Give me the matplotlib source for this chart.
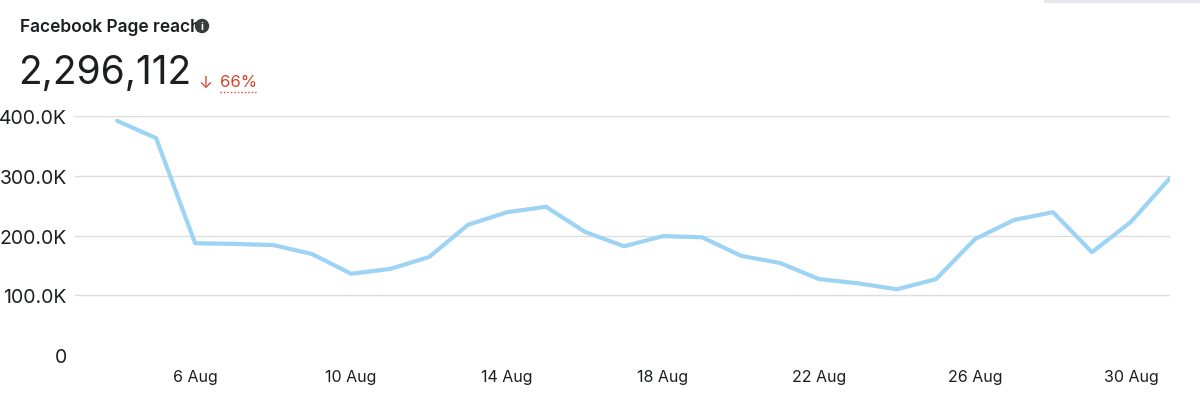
import matplotlib
matplotlib.use("Agg")
import matplotlib.pyplot as plt
import numpy as np
import datetime as dt
import matplotlib.dates as mdates
from matplotlib.patches import Ellipse

days = list(range(4, 32))
reach = [392, 363, 187, 186, 184, 169, 136, 144, 164, 218, 239, 248, 206, 182,
         199, 197, 166, 154, 127, 120, 110, 127, 194, 226, 239, 172, 223, 296]
reach = [v * 1000 for v in reach]
dates = [dt.date(2023, 8, d) for d in days]
yticks = [0, 100000, 200000, 300000, 400000]
ylabels = ["0", "100.0K", "200.0K", "300.0K", "400.0K"]
xtick_days = [6, 10, 14, 18, 22, 26, 30]

plt.rcParams['font.family'] = ['Inter', 'DejaVu Sans']
fig = plt.figure(figsize=(12, 4.1), dpi=100)
ax = fig.add_axes([0.0625, 0.1317, 0.9125, 0.5829])
ax.plot(dates, reach, color="#9dd3f5", lw=3, solid_capstyle="round")
ax.set_ylim(0, 400000)
ax.set_xlim(mdates.date2num(dt.date(2023, 8, 4)) - 1.08, mdates.date2num(dt.date(2023, 8, 31)))
ax.set_yticks(yticks)
ax.set_yticklabels(ylabels, fontsize=14, color="#1c1e21")
ax.set_xticks([dt.date(2023, 8, d) for d in xtick_days])
ax.set_xticklabels([f"{d} Aug" for d in xtick_days], fontsize=11.5, color="#1c1e21")
for y in yticks[1:]:
    ax.axhline(y, color="#dddddd", lw=1, zorder=0)
for s in ax.spines.values():
    s.set_visible(False)
ax.tick_params(length=0, pad=6)
ax.tick_params(axis='x', pad=10)

fig.text(20/1200, 1-27/410, "Facebook Page reach", fontsize=12.5, fontweight="semibold",
         color="#1c1e21", va="center")
fig.patches.append(Ellipse((202/1200, 1-27/410), 13/1200, 13/410, transform=fig.transFigure,
                           color="#3a3b3c", zorder=5))
fig.text(202/1200, 1-27/410, "i", fontsize=7.5, color="white", fontweight="bold",
         ha="center", va="center", zorder=6)
fig.text(18/1200, 1-74/410, "2,296,112", fontsize=28, color="#1c1e21", va="center")
fig.text(198/1200, 1-83/410, "↓", fontsize=12, color="#d0432c", va="center")
fig.text(220/1200, 1-83/410, "66%", fontsize=12, color="#d0432c", va="center")
fig.add_artist(plt.Line2D([220/1200, 256/1200], [1-93/410, 1-93/410], color="#d0432c",
                          lw=1, ls=(0, (1, 1.5))))
fig.add_artist(plt.Line2D([1045/1200, 1200/1200], [1-2/410, 1-2/410], color="#e4e6eb", lw=2))
fig.savefig("out.png", dpi=100, facecolor="white")
